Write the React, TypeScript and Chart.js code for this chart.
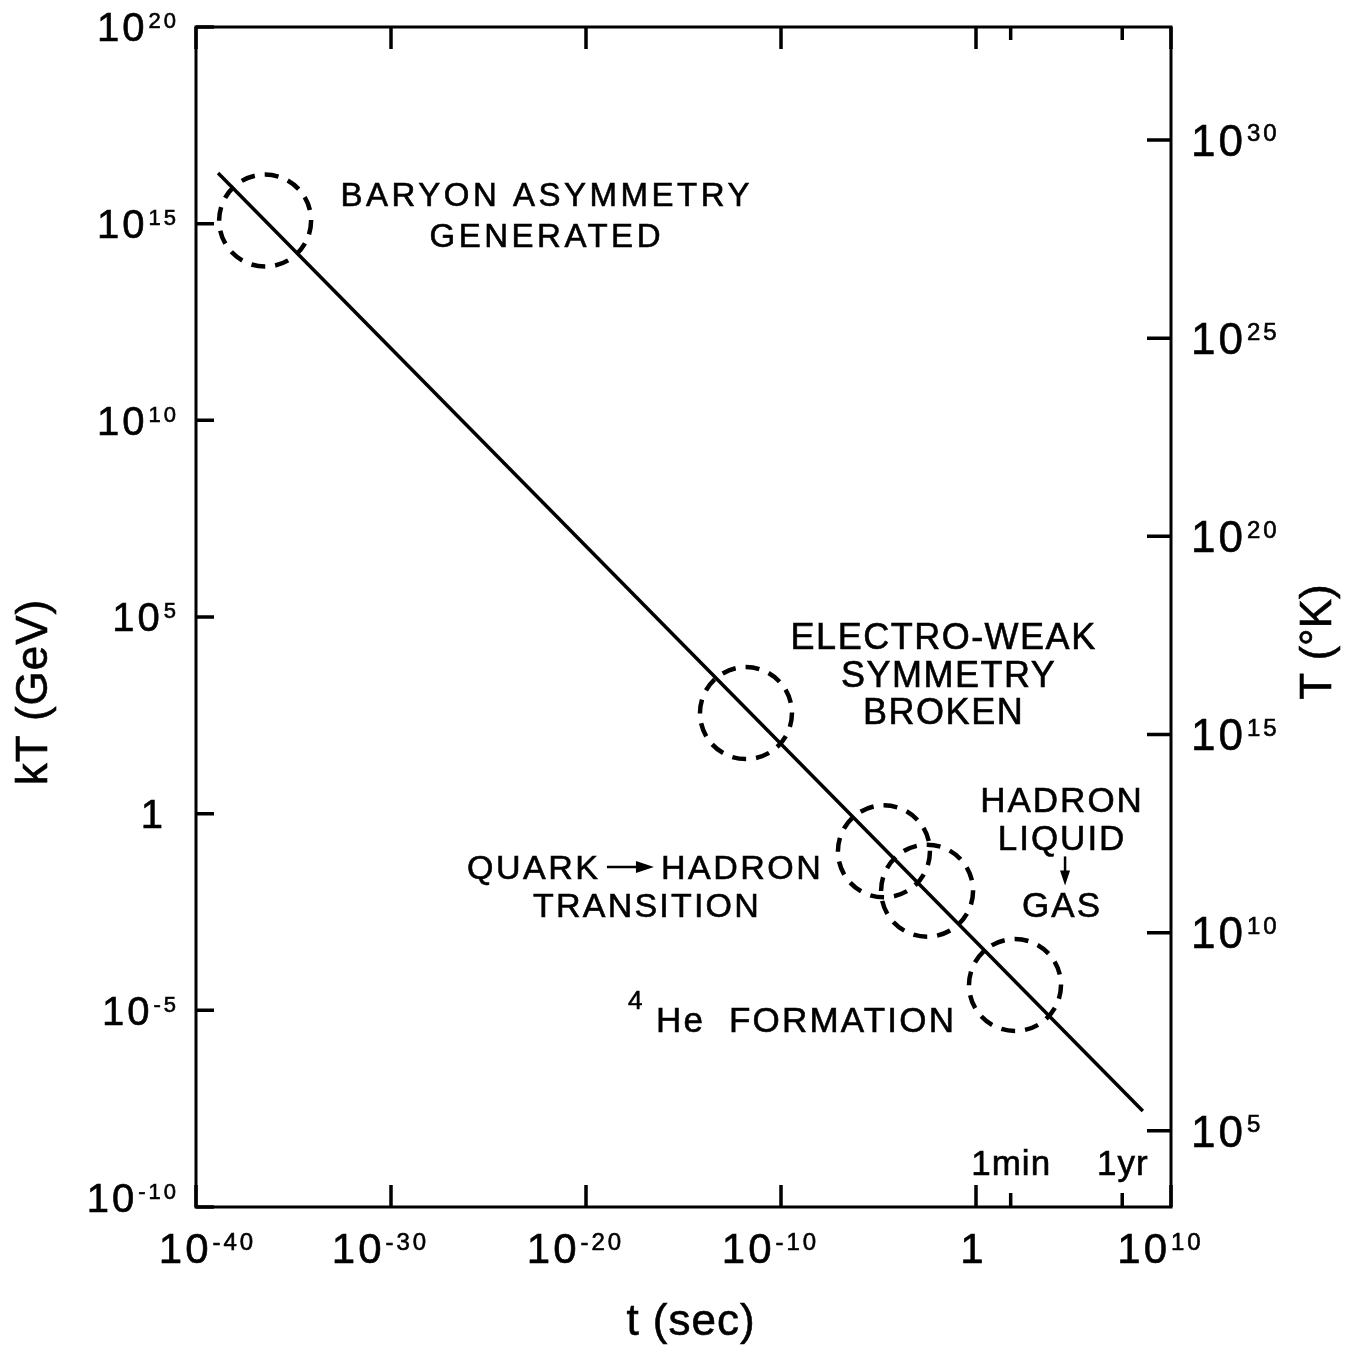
import React, { useEffect, useRef } from 'react';
import { Chart, registerables } from 'chart.js';

Chart.register(...registerables);

// ---------- data ----------
// temperature line kT(t): read end points
const lineTime = [1.35e-39, 3.6e8];
const lineKT = [1.95e16, 2.75e-8];

// dashed circles marking epochs
const epochNames = ['Baryon asymmetry', 'Electro-weak', 'Quark-hadron', 'Hadron liquid-gas', '4He formation'];
const epochTime = [3.5e-37, 1.6e-12, 1.9e-5, 3.1e-3, 100];
const epochKT = [1.2e15, 360, 0.11, 0.011, 4.4e-5];

// axis ticks
const timeTicks = [1e-40, 1e-30, 1e-20, 1e-10, 1, 1e10];
const kTTicks = [1e-10, 1e-5, 1, 1e5, 1e10, 1e15, 1e20];
const tempTicks = [1e5, 1e10, 1e15, 1e20, 1e25, 1e30];
const timeMarkerValues = [60, 3.156e7];
const timeMarkerLabels = ['1min', '1yr'];

// annotation anchors (t, kT) of first text line
const noteTime = [7.9e-23, 2.0e-2, 2.3e4, 9.3e-18, 1.7e-9];
const noteKT = [5.6e15, 3.3e4, 2.3, 4.4e-2, 6.0e-6];

// ---------- drawing helpers ----------
const FONT = '"Liberation Sans", Arial, Helvetica, sans-serif';
const CAP = 0.716;
const INK = 0.6;

function txt(ctx: CanvasRenderingContext2D, text: string, x: number, capMid: number, size: number, spacing: number, align: 'left' | 'center' | 'right'): number {
  ctx.font = `${size}px ${FONT}`;
  (ctx as any).letterSpacing = `${spacing}px`;
  const w = ctx.measureText(text).width - spacing;
  let left = x;
  if (align === 'center') left = x - w / 2;
  else if (align === 'right') left = x - w;
  ctx.textAlign = 'left';
  ctx.textBaseline = 'alphabetic';
  const by = capMid + (size * CAP) / 2;
  ctx.fillText(text, left, by);
  ctx.lineWidth = INK;
  ctx.strokeText(text, left, by);
  return w;
}

function measure(ctx: CanvasRenderingContext2D, text: string, size: number, spacing: number): number {
  ctx.font = `${size}px ${FONT}`;
  (ctx as any).letterSpacing = `${spacing}px`;
  return ctx.measureText(text).width - spacing;
}

function pow10(ctx: CanvasRenderingContext2D, value: number, x: number, mid: number, main: number, sup: number, align: 'left' | 'center' | 'right', plainOffset = 0) {
  const e = Math.round(Math.log10(value));
  if (e === 0) {
    txt(ctx, '1', x + plainOffset, mid, main, 0, align);
    return;
  }
  const gap = 4;
  const w1 = measure(ctx, '10', main, 3);
  const s = String(e);
  const w2 = measure(ctx, s, sup, 3);
  const total = w1 + gap + w2;
  let left = x;
  if (align === 'center') left = x - total / 2;
  else if (align === 'right') left = x - total;
  txt(ctx, '10', left, mid, main, 3, 'left');
  const top = mid - (main * CAP) / 2;
  txt(ctx, s, left + w1 + gap, top + (sup * CAP) / 2, sup, 3, 'left');
}

function arrowRight(ctx: CanvasRenderingContext2D, x1: number, x2: number, y: number) {
  ctx.beginPath();
  ctx.lineWidth = 2.5;
  ctx.moveTo(x1, y);
  ctx.lineTo(x2 - 12, y);
  ctx.stroke();
  ctx.beginPath();
  ctx.moveTo(x2, y);
  ctx.lineTo(x2 - 18, y - 6);
  ctx.lineTo(x2 - 18, y + 6);
  ctx.closePath();
  ctx.fill();
}

function arrowDown(ctx: CanvasRenderingContext2D, x: number, y1: number, y2: number) {
  ctx.beginPath();
  ctx.lineWidth = 2.5;
  ctx.moveTo(x, y1);
  ctx.lineTo(x, y2 - 10);
  ctx.stroke();
  ctx.beginPath();
  ctx.moveTo(x, y2);
  ctx.lineTo(x - 5, y2 - 15);
  ctx.lineTo(x + 5, y2 - 15);
  ctx.closePath();
  ctx.fill();
}

function vtext(ctx: CanvasRenderingContext2D, text: string, x: number, y: number, size: number, spacing: number) {
  ctx.save();
  ctx.translate(x, y);
  ctx.rotate(-Math.PI / 2);
  ctx.font = `${size}px ${FONT}`;
  (ctx as any).letterSpacing = `${spacing}px`;
  ctx.textAlign = 'center';
  ctx.textBaseline = 'alphabetic';
  ctx.fillText(text, 0, 0);
  ctx.lineWidth = INK;
  ctx.strokeText(text, 0, 0);
  ctx.restore();
}

const dashPlugin = {
  id: 'dashCircles',
  beforeDatasetDraw(chart: any, args: any) {
    if (args.meta.type === 'bubble') {
      chart.ctx.save();
      chart.ctx.setLineDash([14, 10]);
    }
  },
  afterDatasetDraw(chart: any, args: any) {
    if (args.meta.type === 'bubble') chart.ctx.restore();
  },
};

const decorPlugin = {
  id: 'decor',
  afterDraw(chart: any) {
    const ctx: CanvasRenderingContext2D = chart.ctx;
    const { left, right, top, bottom } = chart.chartArea;
    const xs = chart.scales.x;
    const ys = chart.scales.y;
    const y2 = chart.scales.y2;
    ctx.save();
    ctx.strokeStyle = '#000';
    ctx.fillStyle = '#000';
    ctx.setLineDash([]);

    // frame
    ctx.lineWidth = 3;
    ctx.strokeRect(left, top, right - left, bottom - top);

    // tick marks (inward)
    ctx.lineWidth = 3.5;
    ctx.lineCap = 'butt';
    ctx.beginPath();
    xs.ticks.forEach((t: any) => {
      const px = xs.getPixelForValue(t.value);
      ctx.moveTo(px, bottom);
      ctx.lineTo(px, bottom - 22);
      ctx.moveTo(px, top);
      ctx.lineTo(px, top + 22);
    });
    timeMarkerValues.forEach((v) => {
      const px = xs.getPixelForValue(v);
      ctx.moveTo(px, bottom);
      ctx.lineTo(px, bottom - 14);
      ctx.moveTo(px, top);
      ctx.lineTo(px, top + 13);
    });
    ys.ticks.forEach((t: any) => {
      const py = ys.getPixelForValue(t.value);
      ctx.moveTo(left, py);
      ctx.lineTo(left + 18, py);
    });
    y2.ticks.forEach((t: any) => {
      const py = y2.getPixelForValue(t.value);
      ctx.moveTo(right, py);
      ctx.lineTo(right - 24, py);
    });
    ctx.stroke();

    // tick labels
    xs.ticks.forEach((t: any, i: number) => {
      const e = Math.round(Math.log10(t.value));
      const shift = i === 0 ? 10 : e === 0 ? -4 : -12;
      pow10(ctx, t.value, xs.getPixelForValue(t.value) + shift, bottom + 41, 42, 24, 'center');
    });
    ys.ticks.forEach((t: any, i: number) => {
      const py = ys.getPixelForValue(t.value);
      const lift = i === 0 ? -9 : 0;
      pow10(ctx, t.value, left - 20, py + lift, 40, 22, 'right', -13);
    });
    y2.ticks.forEach((t: any) => {
      pow10(ctx, t.value, right + 20, y2.getPixelForValue(t.value), 44, 24, 'left');
    });
    timeMarkerValues.forEach((v, i) => {
      txt(ctx, timeMarkerLabels[i], xs.getPixelForValue(v), bottom - 44.5, 35, 1, 'center');
    });

    // axis titles
    txt(ctx, 't (sec)', (left + right) / 2 + 7, bottom + 112, 44, 1, 'center');
    vtext(ctx, 'kT (GeV)', left - 149, (top + bottom) / 2 + 75, 44, 1);
    vtext(ctx, 'T (\u00B0K)', right + 160, (top + bottom) / 2 + 25, 44, 0);

    // annotations
    const ax = (i: number) => xs.getPixelForValue(noteTime[i]);
    const ay = (i: number) => ys.getPixelForValue(noteKT[i]);

    // baryon asymmetry
    txt(ctx, 'BARYON ASYMMETRY', ax(0), ay(0), 33, 3.5, 'center');
    txt(ctx, 'GENERATED', ax(0), ay(0) + 41, 33, 3.5, 'center');

    // electro-weak
    txt(ctx, 'ELECTRO-WEAK', ax(1), ay(1), 36, 1.5, 'center');
    txt(ctx, 'SYMMETRY', ax(1) + 5, ay(1) + 38, 36, 1.5, 'center');
    txt(ctx, 'BROKEN', ax(1), ay(1) + 75, 36, 1.5, 'center');

    // hadron liquid -> gas
    txt(ctx, 'HADRON', ax(2), ay(2), 35, 2, 'center');
    txt(ctx, 'LIQUID', ax(2), ay(2) + 38, 35, 2, 'center');
    arrowDown(ctx, ax(2) + 4, ay(2) + 57, ay(2) + 86);
    txt(ctx, 'GAS', ax(2), ay(2) + 105, 35, 2, 'center');

    // quark -> hadron transition
    {
      const wq = measure(ctx, 'QUARK', 34, 2.5);
      const wh = measure(ctx, 'HADRON', 34, 2.5);
      const total = wq + 9 + 47 + 7 + wh;
      const l = ax(3) - total / 2;
      const y = ay(3);
      txt(ctx, 'QUARK', l, y, 34, 2.5, 'left');
      arrowRight(ctx, l + wq + 9, l + wq + 56, y);
      txt(ctx, 'HADRON', l + wq + 63, y, 34, 2.5, 'left');
      txt(ctx, 'TRANSITION', ax(3) + 2, y + 38, 34, 2.2, 'center');
    }

    // 4He formation
    {
      const w = measure(ctx, 'He  FORMATION', 35, 2.2);
      const l = ax(4) - w / 2;
      txt(ctx, 'He  FORMATION', l, ay(4), 35, 2.2, 'left');
      txt(ctx, '4', l - 28, ay(4) - 19, 26, 0, 'left');
    }

    ctx.restore();
  },
};

export default function App() {
  const ref = useRef<HTMLCanvasElement | null>(null);

  useEffect(() => {
    if (!ref.current) return;
    const chart = new Chart(ref.current, {
      type: 'scatter',
      data: {
        datasets: [
          {
            type: 'line',
            label: 'kT(t)',
            data: lineTime.map((t, i) => ({ x: t, y: lineKT[i] })),
            borderColor: '#000',
            borderWidth: 3.5,
            pointRadius: 0,
            fill: false,
            tension: 0,
          } as any,
          {
            type: 'bubble',
            label: 'epochs',
            data: epochTime.map((t, i) => ({ x: t, y: epochKT[i], name: epochNames[i] })),
            radius: 46,
            borderColor: '#000',
            borderWidth: 4.5,
            backgroundColor: 'rgba(0,0,0,0)',
          } as any,
        ],
      },
      options: {
        animation: false,
        responsive: false,
        events: [],
        layout: { autoPadding: false, padding: { top: 27, left: 0, right: 0, bottom: 0 } },
        plugins: { legend: { display: false }, tooltip: { enabled: false } },
        scales: {
          x: {
            type: 'logarithmic',
            position: 'bottom',
            min: 1e-40,
            max: 1e10,
            grid: { display: false },
            border: { display: false },
            ticks: { display: false },
            afterBuildTicks: (s: any) => {
              s.ticks = timeTicks.map((v) => ({ value: v }));
            },
            afterFit: (s: any) => {
              s.height = 143;
            },
          },
          y: {
            type: 'logarithmic',
            position: 'left',
            min: 1e-10,
            max: 1e20,
            grid: { display: false },
            border: { display: false },
            ticks: { display: false },
            afterBuildTicks: (s: any) => {
              s.ticks = kTTicks.map((v) => ({ value: v }));
            },
            afterFit: (s: any) => {
              s.width = 196;
            },
          },
          y2: {
            type: 'logarithmic',
            position: 'right',
            min: 1.2e3,
            max: 7.1e32,
            grid: { display: false },
            border: { display: false },
            ticks: { display: false },
            afterBuildTicks: (s: any) => {
              s.ticks = tempTicks.map((v) => ({ value: v }));
            },
            afterFit: (s: any) => {
              s.width = 185;
            },
          },
        },
      } as any,
      plugins: [dashPlugin, decorPlugin],
    });
    return () => chart.destroy();
  }, []);

  return (
    <div style={{ position: 'absolute', left: 0, top: 0, width: 1356, height: 1350, background: '#fff' }}>
      <canvas ref={ref} width={1356} height={1350} style={{ display: 'block' }} />
    </div>
  );
}
